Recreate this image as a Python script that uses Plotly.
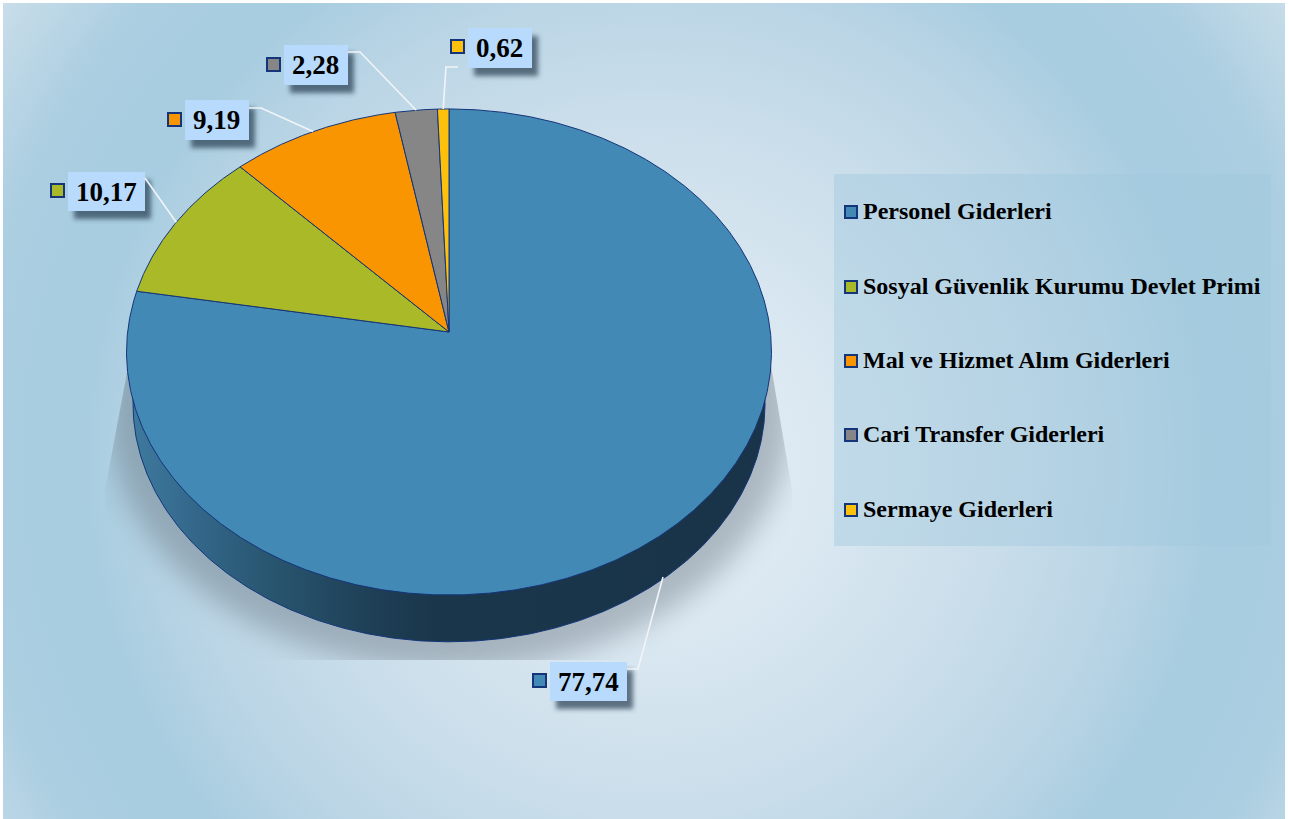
import base64
import numpy as np
import plotly.graph_objects as go

# ---------- data ----------
categories = ["Personel Giderleri", "Sosyal Güvenlik Kurumu Devlet Primi",
              "Mal ve Hizmet Alım Giderleri", "Cari Transfer Giderleri", "Sermaye Giderleri"]
values = [77.74, 10.17, 9.19, 2.28, 0.62]
value_labels = ["77,74", "10,17", "9,19", "2,28", "0,62"]
colors = ["#4289B5", "#A9B927", "#F99500", "#868686", "#FEC10B"]

# ---------- layout constants (pixels) ----------
W, H = 1289, 819
CX, CY = 449.0, 332.0            # apex of the tilted pie
A, B, K = 321.4, 241.4, 0.0823   # perspective circle -> ellipse
DEPTH, BOTTOM_SCALE = 52.0, 0.98
NAVY = "#14357A"

label_boxes = [(550, 627, 662, 701), (68, 145, 172, 211), (185, 249, 100, 140),
               (284, 348, 45, 85), (468, 532, 28, 68)]
label_swatches = [(539.5, 680.5), (57.5, 190.5), (174.5, 119.5), (273.5, 64.5), (457.5, 46.5)]
leader_bends = [[(627, 669), (638, 669)], [(145, 178)], [(249, 108), (261, 108)],
                [(348, 52), (360, 52)], [(458, 67), (446, 67)]]
legend_box = (834, 1271, 174, 546)
legend_ys = [211, 286, 360, 434, 509]


def project(theta, scale=1.0, dy=0.0):
    den = 1 + K * np.cos(theta)
    return (CX + scale * A * np.sin(theta) / den,
            CY + dy + scale * B * (-np.cos(theta)) / den)


# ---------- background picture: gradient + soft shadows ----------
shadow_rects = "".join(
    f'<rect x="{x0 + 6}" y="{y0 + 8}" width="{x1 - x0}" height="{y1 - y0}" fill="#24384c" opacity="0.68" filter="url(#b2)"/>'
    for x0, x1, y0, y1 in label_boxes)
svg = f'''<svg xmlns="http://www.w3.org/2000/svg" width="{W}" height="{H}" viewBox="0 0 {W} {H}">
<defs>
<radialGradient id="g" gradientUnits="userSpaceOnUse" cx="650" cy="460" r="790">
<stop offset="0" stop-color="#E3EEF5"/><stop offset="0.2" stop-color="#DCE9F2"/>
<stop offset="0.45" stop-color="#C9DDEA"/><stop offset="0.6" stop-color="#BAD5E5"/>
<stop offset="0.72" stop-color="#A8CDE0"/><stop offset="0.86" stop-color="#ABCEE1"/>
<stop offset="1" stop-color="#C8DDE9"/>
</radialGradient>
<filter id="b1" x="-20%" y="-20%" width="140%" height="140%"><feGaussianBlur stdDeviation="14"/></filter>
<filter id="b2" x="-30%" y="-30%" width="160%" height="160%"><feGaussianBlur stdDeviation="2.5"/></filter>
<clipPath id="c"><polygon points="135,330 105,490 105,660 792,660 792,490 765,330"/></clipPath>
</defs>
<rect width="{W}" height="{H}" fill="#FFFFFF"/>
<rect x="3" y="3" width="1282" height="816" fill="url(#g)"/>
<g clip-path="url(#c)"><ellipse cx="449" cy="412" rx="342" ry="258" fill="#4A5560" opacity="0.34" filter="url(#b1)"/></g>
{shadow_rects}
</svg>'''
bg_uri = "data:image/svg+xml;base64," + base64.b64encode(svg.encode()).decode()

fig = go.Figure()

# ---------- pie wall: lower face of the disc ----------
t = np.linspace(0, 2 * np.pi, 721)
bx, by = project(t, BOTTOM_SCALE, DEPTH)
fig.add_trace(go.Scatter(
    x=bx, y=by, mode="lines", fill="toself",
    line=dict(color=NAVY, width=1),
    fillgradient=dict(type="horizontal", colorscale=[
        [0, "#3E7A9E"], [0.1, "#33678A"], [0.22, "#28556F"], [0.38, "#1E3F56"],
        [0.48, "#1A364A"], [1, "#193449"]]),
    hoverinfo="skip", showlegend=False))

# ---------- pie slices ----------
edges = np.cumsum([0.0] + values) / sum(values) * 2 * np.pi
for name, c, a0, a1 in zip(categories, colors, edges[:-1], edges[1:]):
    th = np.linspace(a0, a1, max(3, int((a1 - a0) * 180)))
    sx, sy = project(th)
    fig.add_trace(go.Scatter(
        x=np.r_[CX, sx, CX], y=np.r_[CY, sy, CY], mode="lines", fill="toself",
        fillcolor=c, line=dict(color=NAVY, width=1), name=name, showlegend=False,
        hovertemplate=f"{name}<extra></extra>"))

# ---------- leader lines ----------
mids = (edges[:-1] + edges[1:]) / 2
for i, (bends, m) in enumerate(zip(leader_bends, mids)):
    tipx, tipy = project(m)
    if i == 0:               # the largest slice's leader lands on the wall's lower rim
        tipx, tipy = 663, 577
    xs = [p[0] for p in bends] + [tipx]
    ys = [p[1] for p in bends] + [tipy]
    fig.add_trace(go.Scatter(x=xs, y=ys, mode="lines", line=dict(color="#F1F5F8", width=1.6),
                             hoverinfo="skip", showlegend=False))

# ---------- swatches ----------
fig.add_trace(go.Scatter(
    x=[p[0] for p in label_swatches], y=[p[1] for p in label_swatches], mode="markers",
    marker=dict(symbol="square", size=13, color=colors, line=dict(color=NAVY, width=2)),
    hoverinfo="skip", showlegend=False))
fig.add_trace(go.Scatter(
    x=[851] * len(categories), y=[y + 1 for y in legend_ys], mode="markers",
    marker=dict(symbol="square", size=12, color=colors, line=dict(color=NAVY, width=2)),
    hoverinfo="skip", showlegend=False))

# ---------- boxes ----------
shapes = [dict(type="rect", xref="x", yref="y", x0=legend_box[0], x1=legend_box[1],
               y0=legend_box[2], y1=legend_box[3], line_width=0,
               fillcolor="rgba(160,200,222,0.42)", layer="below")]
for x0, x1, y0, y1 in label_boxes:
    shapes.append(dict(type="rect", xref="x", yref="y", x0=x0, x1=x1, y0=y0, y1=y1,
                       line_width=0, fillcolor="#B8DBFD", layer="above"))

# ---------- texts ----------
SERIF = "Liberation Serif"
annotations = []
for txt, (x0, x1, y0, y1) in zip(value_labels, label_boxes):
    annotations.append(dict(x=(x0 + x1) / 2 - 0.5, y=(y0 + y1) / 2, xref="x", yref="y", text=f"<b>{txt}</b>",
                            showarrow=False, xanchor="center", yanchor="middle",
                            font=dict(family=SERIF, size=27, color="#000000")))
for name, y in zip(categories, legend_ys):
    annotations.append(dict(x=860.5, y=y, xref="x", yref="y", text=f"<b>{name}</b>",
                            showarrow=False, xanchor="left", yanchor="middle",
                            font=dict(family=SERIF, size=24, color="#000000")))

fig.update_layout(
    width=W, height=H, margin=dict(l=0, r=0, t=0, b=0),
    paper_bgcolor="#FFFFFF", plot_bgcolor="rgba(0,0,0,0)",
    xaxis=dict(range=[0, W], visible=False, fixedrange=True),
    yaxis=dict(range=[H, 0], visible=False, fixedrange=True),
    showlegend=False, shapes=shapes, annotations=annotations,
    images=[dict(source=bg_uri, xref="paper", yref="paper", x=0, y=1, sizex=1, sizey=1,
                 xanchor="left", yanchor="top", sizing="stretch", layer="below")],
)
fig.write_html("out.html", config={"displayModeBar": False},
               post_script="document.body.style.margin='0';")
